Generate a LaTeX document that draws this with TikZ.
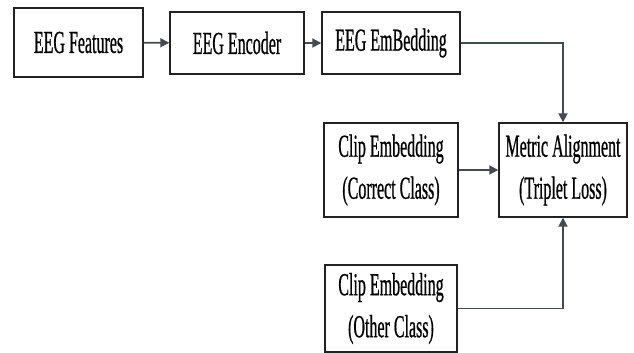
\documentclass[tikz,border=0pt]{standalone}
\usepackage{fontspec}
\setmainfont{Liberation Serif}[FakeStretch=0.5,FakeBold=0.6]
\usetikzlibrary{positioning,arrows.meta}
\definecolor{edgeblk}{HTML}{222222}
\definecolor{wiregray}{HTML}{434A53}
\tikzset{
  blk/.style ={draw=edgeblk, line width=1.4pt, fill=white, align=center,
               inner sep=0pt, font=\fontsize{32}{42}\selectfont},
  wire/.style={-{Triangle[length=9pt,width=9pt]}, draw=wiregray, line width=1.8pt},
}

\begin{document}
\begin{tikzpicture}[x=1pt,y=-1pt]
    \useasboundingbox (0,0) rectangle (634,353);
    \node[blk,minimum width=129pt,minimum height=69pt] (feat) at (78.5,42.5) {EEG Features};
    \node[blk,minimum width=134pt,minimum height=62pt] (enc) at (237,43) {EEG Encoder};
    \node[blk,minimum width=138pt,minimum height=62pt] (emb) at (391,43) {EEG EmBedding};
    \node[blk,minimum width=134pt,minimum height=94pt] (clipc) at (391,170) {Clip Embedding\\(Correct Class)};
    \node[blk,minimum width=128pt,minimum height=94pt] (metric) at (563,170) {Metric Alignment\\(Triplet Loss)};
    \node[blk,minimum width=132pt,minimum height=87pt] (clipo) at (391,308.5) {Clip Embedding\\(Other Class)};
    \draw[wire] (feat)--(enc);
    \draw[wire] (enc)--(emb);
    \draw[wire] (emb.east) -| (metric.north);
    \draw[wire] (clipc)--(metric);
    \draw[wire] (clipo.east) -| (metric.south);
  \end{tikzpicture}
\end{document}
